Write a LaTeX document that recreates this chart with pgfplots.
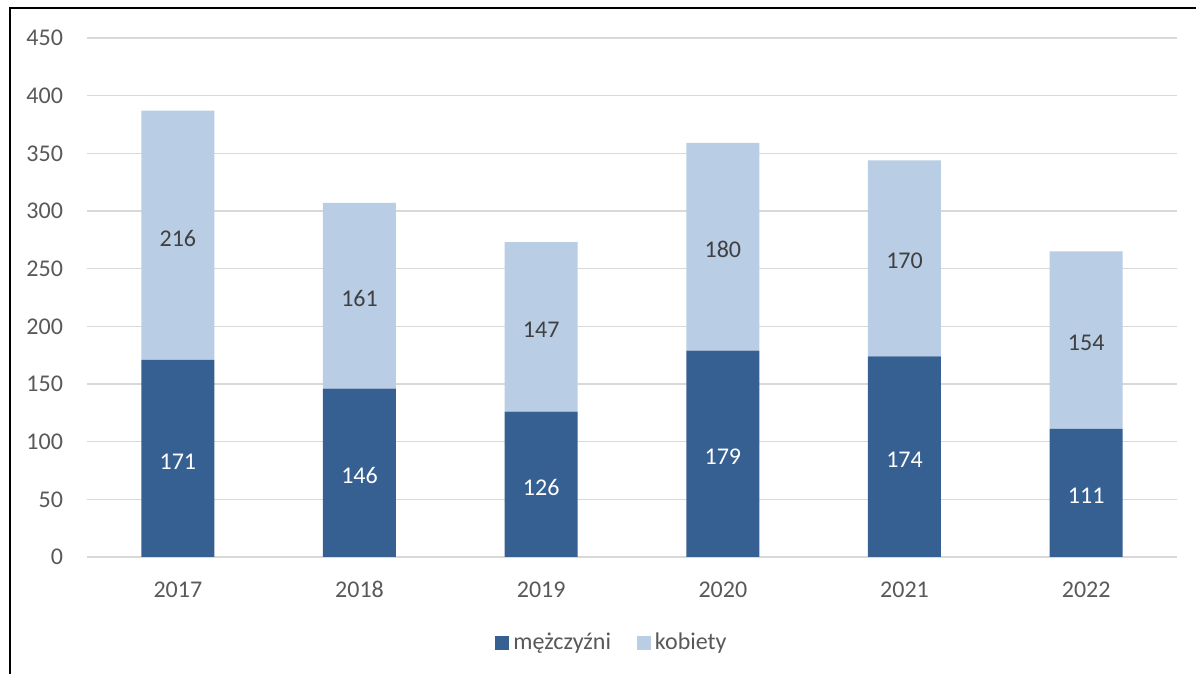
\documentclass[border=0pt]{standalone}
\usepackage{fontspec}
\setmainfont{Carlito}
\usepackage{pgfplots}
\usepackage{pgfplotstable}
\pgfplotsset{compat=1.18}
\definecolor{dark}{HTML}{366092}
\definecolor{light}{HTML}{B9CDE5}
\definecolor{txt}{HTML}{595959}
\definecolor{gridc}{HTML}{D9D9D9}
\definecolor{lbl}{HTML}{404040}
\pgfplotstableread{
x year m w
0 2017 171 216
1 2018 146 161
2 2019 126 147
3 2020 179 180
4 2021 174 170
5 2022 111 154
}\data
\begin{document}
\begin{tikzpicture}
\useasboundingbox (0,0) rectangle (598pt,337pt);
\fill[white] (0,0) rectangle (598pt,337pt);
\draw[black, line width=0.8pt] (5pt,0) -- (5pt,333pt) -- (598pt,333pt);
\begin{axis}[
  at={(43.5pt,58.5pt)}, anchor=south west,
  scale only axis, width=545pt, height=259.5pt,
  ybar stacked, bar width=36.5pt,
  xmin=-0.5, xmax=5.5, ymin=0, ymax=450,
  ytick={0,50,...,450},
  xtick={0,...,5}, xticklabels={2017,2018,2019,2020,2021,2022},
  axis line style={draw=none},
  major tick length=0pt,
  ymajorgrids, grid style={gridc, line width=0.8pt},
  /pgf/number format/assume math mode=true,
  tick label style={font=\fontsize{12}{14}\selectfont, text=txt},
  yticklabel style={xshift=-8.5pt},
  xticklabel style={text height=9pt, text depth=0pt, yshift=-7.5pt},
  legend columns=2,
  legend style={draw=none, fill=none, at={(0.4826,-0.1657)}, anchor=center,
    font=\fontsize{12}{14}\selectfont, text=txt,
    /tikz/every even column/.append style={column sep=11pt}},
  legend image code/.code={\fill[#1] (0pt,-3.5pt) rectangle (7pt,3.5pt);},
]
\addplot[fill=dark, draw=none] table[x=x, y=m] {\data};
\addlegendentry{mężczyźni}
\addplot[fill=light, draw=none] table[x=x, y=w] {\data};
\addlegendentry{kobiety}
\end{axis}
\begin{axis}[
  at={(43.5pt,58.5pt)}, anchor=south west,
  scale only axis, width=545pt, height=259.5pt,
  xmin=-0.5, xmax=5.5, ymin=0, ymax=450,
  axis lines=none, clip=false,
  /pgf/number format/assume math mode=true,
  nodes near coords,
  nodes near coords style={anchor=center, yshift=-1.5pt, font=\fontsize{12}{14}\selectfont},
  point meta=explicit,
]
\addplot[draw=none, mark=none, nodes near coords style={text=white}]
  table[x=x, y expr=\thisrow{m}/2, meta=m] {\data};
\addplot[draw=none, mark=none, nodes near coords style={text=lbl}]
  table[x=x, y expr=\thisrow{m}+\thisrow{w}/2, meta=w] {\data};
\end{axis}
\end{tikzpicture}
\end{document}
